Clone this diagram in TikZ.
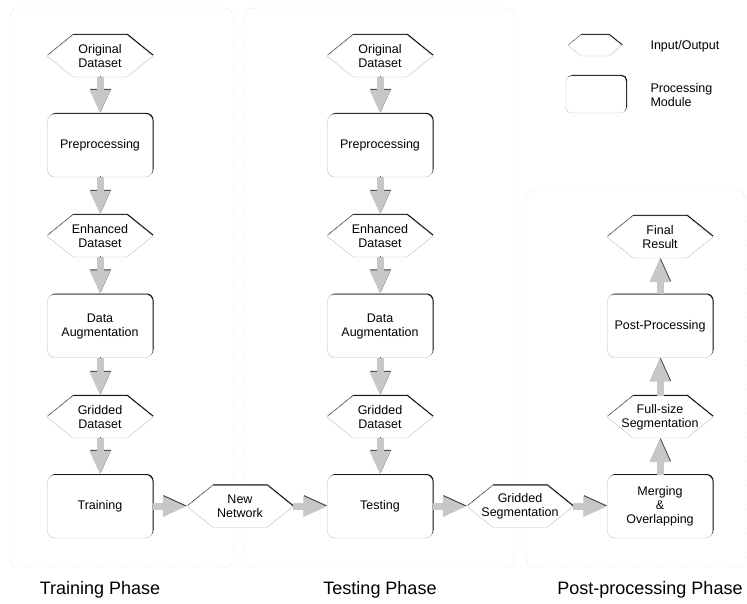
\documentclass[tikz,border=0pt]{standalone}
\usepackage{fontspec}
\setmainfont{Liberation Sans}
\usetikzlibrary{shadows,arrows.meta}

% hexagon for input/output data: name, position, text
\newcommand{\ionode}[3]{%
  \fill [black, shift={#2}, xshift=0.5pt, yshift=1.2pt] (-53,0) -- (-27,21) -- (27,21) -- (53,0) -- (27,-21) -- (-27,-21) -- cycle;
  \filldraw [fill=white, draw=black!25, shift={#2}] (-53,0) -- (-27,21) -- (27,21) -- (53,0) -- (27,-21) -- (-27,-21) -- cycle;
  \node [io] (#1) at #2 {#3};}

\begin{document}
\begin{tikzpicture}[x=1pt,y=1pt]
\tikzstyle{every node}+=[font=\fontsize{12.5}{14}\selectfont, align=center]
\tikzstyle{io}=[rectangle, minimum width=106pt, minimum height=42pt, inner sep=0pt]
\tikzstyle{module}=[rectangle, rounded corners=7pt, minimum width=105pt, minimum height=63pt, fill=white, draw=black!25, drop shadow={shadow xshift=1pt, shadow yshift=1pt, opacity=1, fill=black}]
\tikzstyle{flow}=[draw=black!22, line width=7pt, -{Triangle[width=19pt,length=24pt]}, preaction={draw=black!75, transform canvas={shift={(0.6pt,0.9pt)}}}]
\tikzstyle{phase}=[draw=black!40, dotted, rounded corners=8pt]
\useasboundingbox (0,0) rectangle (747,-604);
% phase frames
\draw [phase] (10,-8) rectangle (233,-567);
\draw [phase] (244,-8) rectangle (514,-567);
\draw [phase] (526,-191) rectangle (746,-567);
% training phase
\ionode{orig1}{(100,-56)}{Original\\Dataset}
\node [module] (pre1) at (100,-145.5) {Preprocessing};
\ionode{enh1}{(100,-236)}{Enhanced\\Dataset}
\node [module] (aug1) at (100,-326) {Data\\Augmentation};
\ionode{grid1}{(100,-417)}{Gridded\\Dataset}
\node [module] (train) at (100,-506.5) {Training};
\ionode{net}{(240,-506.5)}{New\\Network}
% testing phase
\ionode{orig2}{(380,-56)}{Original\\Dataset}
\node [module] (pre2) at (380,-145.5) {Preprocessing};
\ionode{enh2}{(380,-236)}{Enhanced\\Dataset}
\node [module] (aug2) at (380,-326) {Data\\Augmentation};
\ionode{grid2}{(380,-417)}{Gridded\\Dataset}
\node [module] (test) at (380,-506.5) {Testing};
\ionode{gridseg}{(520,-506.5)}{Gridded\\Segmentation}
% post-processing phase
\node [module] (merge) at (660,-506.5) {Merging\\\&\\Overlapping};
\ionode{fullseg}{(660,-417)}{Full-size\\Segmentation}
\node [module] (post) at (660,-326) {Post-Processing};
\ionode{final}{(660,-237)}{Final\\Result}
% legend
\fill [black, shift={(595,-45.5)}, xshift=0.5pt, yshift=1pt] (-27,0) -- (-14,10.5) -- (14,10.5) -- (27,0) -- (14,-10.5) -- (-14,-10.5) -- cycle;
\filldraw [fill=white, draw=black!25, shift={(595,-45.5)}] (-27,0) -- (-14,10.5) -- (14,10.5) -- (27,0) -- (14,-10.5) -- (-14,-10.5) -- cycle;
\node [module, minimum width=60pt, minimum height=37pt, rounded corners=5pt] (modkey) at (596,-94.5) {};
\node [anchor=west] (iotext) at (647,-46) {Input/Output};
\node [anchor=west, align=left] (modtext) at (647,-95) {Processing\\Module};
% phase titles
\node [font=\fontsize{18}{21}\selectfont] (trainlabel) at (100,-590) {Training Phase};
\node [font=\fontsize{18}{21}\selectfont] (testlabel) at (380,-590) {Testing Phase};
\node [font=\fontsize{18}{21}\selectfont] (postlabel) at (650,-590) {Post-processing Phase};
% data flow
\draw [flow] (orig1) -- (pre1);
\draw [flow] (pre1) -- (enh1);
\draw [flow] (enh1) -- (aug1);
\draw [flow] (aug1) -- (grid1);
\draw [flow] (grid1) -- (train);
\draw [flow] (train) -- (net);
\draw [flow] (net) -- (test);
\draw [flow] (orig2) -- (pre2);
\draw [flow] (pre2) -- (enh2);
\draw [flow] (enh2) -- (aug2);
\draw [flow] (aug2) -- (grid2);
\draw [flow] (grid2) -- (test);
\draw [flow] (test) -- (gridseg);
\draw [flow] (gridseg) -- (merge);
\draw [flow] (merge) -- (fullseg);
\draw [flow] (fullseg) -- (post);
\draw [flow] (post) -- (final);
\end{tikzpicture}
\end{document}
